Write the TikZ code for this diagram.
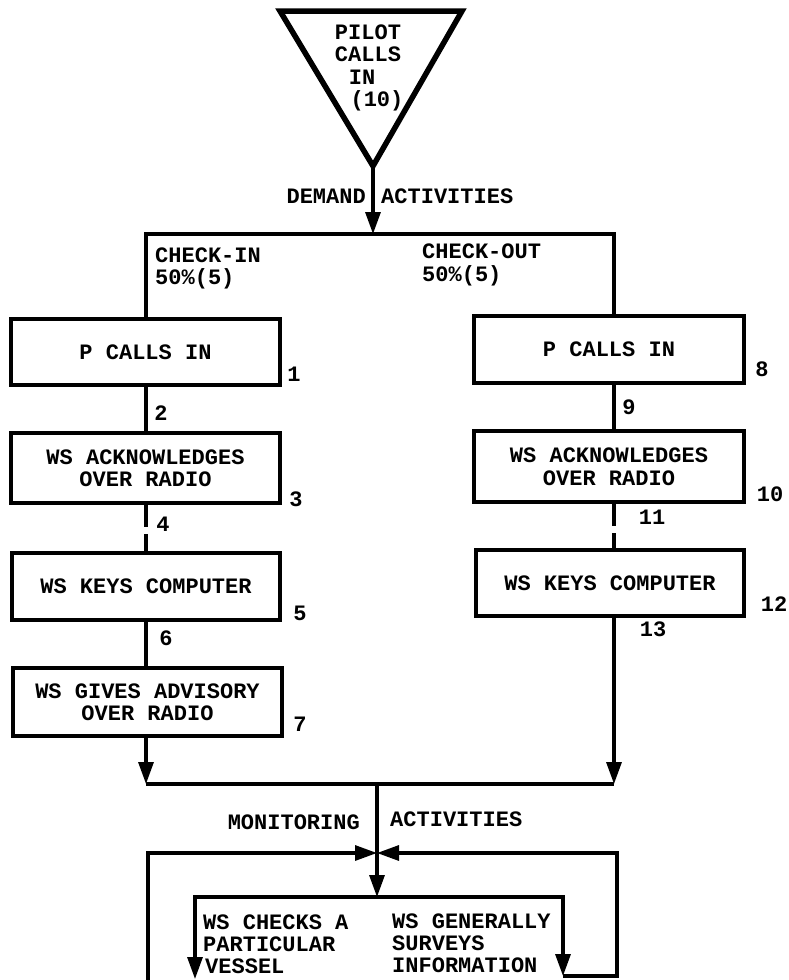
\documentclass[tikz,border=0pt]{standalone}
\usepackage{fontspec}
\newfontfamily\tw{Liberation Mono}
\usetikzlibrary{arrows.meta}
\begin{document}
\begin{tikzpicture}[x=1pt,y=-1pt,
  txt/.style={font={\tw\bfseries\fontsize{22}{22.5}\selectfont}, inner sep=0pt, align=center},
  box/.style={draw, line width=4.4pt, inner sep=0pt, txt},
  conn/.style={line width=3.2pt},
  dashconn/.style={conn, dash pattern=on 22pt off 7pt},
  arr/.style={conn, -{Triangle[length=22pt,width=15pt]}},
  lbl/.style={txt, anchor=base},
  lblw/.style={txt, anchor=base west},
  lble/.style={txt, anchor=base east}]
\useasboundingbox (0,0) rectangle (788,980);

% source triangle
\coordinate (tl) at (280,11);
\coordinate (tr) at (462,11);
\coordinate (apex) at (373,166);
\draw[line width=5.5pt, line join=miter] (tl) -- (tr) -- (apex) -- cycle;
\node[lbl] (t1) at (368,39) {PILOT};
\node[lbl] (t2) at (368,61) {CALLS};
\node[lbl] (t3) at (362,84) {IN};
\node[lbl] (t4) at (377,106) {(10)};

\node[lble] (dem) at (366,203) {DEMAND};
\node[lblw] (act1) at (381,203) {ACTIVITIES};

% boxes
\node[box, minimum width=269pt, minimum height=66pt] (L1) at (145.5,352) {P CALLS IN};
\node[box, minimum width=269pt, minimum height=70pt] (L2) at (145.5,468) {WS ACKNOWLEDGES\\OVER RADIO};
\node[box, minimum width=268pt, minimum height=67pt] (L3) at (146,586.5) {WS KEYS COMPUTER};
\node[box, minimum width=269pt, minimum height=68pt] (L4) at (147.5,702) {WS GIVES ADVISORY\\OVER RADIO};
\node[box, minimum width=270pt, minimum height=67pt] (R1) at (609,349.5) {P CALLS IN};
\node[box, minimum width=270pt, minimum height=71pt] (R2) at (609,466.5) {WS ACKNOWLEDGES\\OVER RADIO};
\node[box, minimum width=268pt, minimum height=66pt] (R3) at (610,583) {WS KEYS COMPUTER};

% branch labels
\node[lblw] (ci1) at (155,262) {CHECK-IN};
\node[lblw] (ci2) at (155,284) {50\%(5)};
\node[lblw] (co1) at (422,258) {CHECK-OUT};
\node[lblw] (co2) at (422,281) {50\%(5)};

% numbers
\node[lbl] (n1) at (294,381) {1};
\node[lbl] (n2) at (161,420) {2};
\node[lbl] (n3) at (296,506) {3};
\node[lbl] (n4) at (163,531) {4};
\node[lbl] (n5) at (300,620) {5};
\node[lbl] (n6) at (166,645) {6};
\node[lbl] (n7) at (300,731) {7};
\node[lbl] (n8) at (762,376) {8};
\node[lbl] (n9) at (629,414) {9};
\node[lbl] (n10) at (770,501) {10};
\node[lbl] (n11) at (652,524) {11};
\node[lbl] (n12) at (774,611) {12};
\node[lbl] (n13) at (653,636) {13};

% demand connectors
\coordinate (split) at (373,234);
\coordinate (lc) at (146,234);
\coordinate (rc) at (614,234);
\draw[arr] (apex) -- (split);
\draw[conn, line join=miter] (L1.north -| lc) -- (lc) -- (rc) -- (rc |- R1.north);
\draw[conn] (L1.south -| lc) -- (L2.north -| lc);
\draw[dashconn] (L2.south -| lc) -- (L3.north -| lc);
\draw[conn] (L3.south -| lc) -- (L4.north -| lc);
\draw[conn] (R1.south -| rc) -- (R2.north -| rc);
\draw[dashconn] (R2.south -| rc) -- (R3.north -| rc);

% merge
\coordinate (bl) at (146,784);
\coordinate (merge) at (377,784);
\draw[arr] (L4.south -| lc) -- (bl);
\draw[arr] (R3.south -| rc) -- (rc |- bl);
\draw[conn] (bl) -- (rc |- bl);

\node[lble] (mon) at (360,829) {MONITORING};
\node[lblw] (act2) at (390,826) {ACTIVITIES};

% monitoring loop
\coordinate (J) at (377,853);
\coordinate (itop) at (377,897);
\coordinate (ilb) at (195,979);
\coordinate (irb) at (563,976);
\coordinate (orb) at (617,976);
\coordinate (ort) at (617,853);
\coordinate (olb) at (148,995);
\draw[arr] (merge) -- (itop);
\draw[arr, line join=miter] (itop) -| (ilb);
\draw[arr, line join=miter] (itop) -| (irb);
\draw[arr, line join=miter] (irb) -- (orb) -- (ort) -- (J);
\draw[arr, line join=miter] (olb) |- (J);

\node[lblw] (m1) at (203,929) {WS CHECKS A};
\node[lblw] (m2) at (203,951) {PARTICULAR};
\node[lblw] (m3) at (205,973) {VESSEL};
\node[lblw] (m4) at (392,928) {WS GENERALLY};
\node[lblw] (m5) at (392,950) {SURVEYS};
\node[lblw] (m6) at (392,972) {INFORMATION};
\end{tikzpicture}
\end{document}
